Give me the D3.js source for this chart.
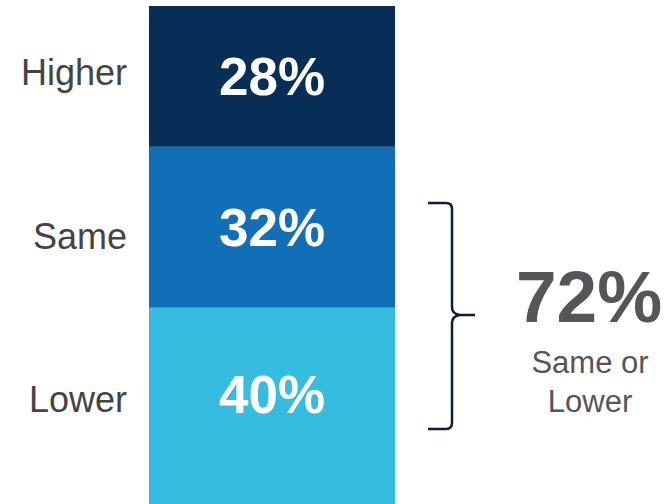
<!DOCTYPE html>
<html><head><meta charset="utf-8">
<script src="https://cdn.jsdelivr.net/npm/d3@7/dist/d3.min.js"></script>
<style>html,body{margin:0;padding:0;background:#fff;}svg{display:block;}</style>
</head><body>
<svg id="chart" width="666" height="504"></svg>
<script>
const categories = ["Higher", "Same", "Lower"];
const values = [28, 32, 40];
const colors = ["#072e57", "#116fb7", "#35bcdf"];
const summaryValue = "72%";
const summaryLabel = ["Same or", "Lower"];

(function () {
const svg = d3.select("#chart");
const font = "'Liberation Sans', Arial, Helvetica, sans-serif";

const y = d3.scaleLinear().domain([0, 100]).range([6, 509]);
const x = d3.scaleBand().domain(["bar"]).range([149, 395]).padding(0);
const labelY = d3.scalePoint().domain(categories).range([85, 412]);

let cum = 0;
const data = categories.map((c, i) => {
  const d = { cat: c, v: values[i], y0: cum, y1: cum + values[i], color: colors[i] };
  cum += values[i];
  return d;
});

const visibleBottom = 480;
const mid = d => (y(d.y0) + Math.min(y(d.y1), visibleBottom)) / 2;

svg.selectAll("rect.seg").data(data).enter().append("rect")
  .attr("class", "seg")
  .attr("x", x("bar"))
  .attr("width", x.bandwidth())
  .attr("y", d => y(d.y0))
  .attr("height", d => y(d.y1) - y(d.y0))
  .attr("fill", d => d.color);

svg.selectAll("text.val").data(data).enter().append("text")
  .attr("class", "val")
  .attr("x", x("bar") + x.bandwidth() / 2)
  .attr("y", d => mid(d) + 19)
  .attr("text-anchor", "middle")
  .attr("font-family", font)
  .attr("font-weight", "bold")
  .attr("font-size", 53)
  .attr("fill", "#ffffff")
  .text(d => d.v + "%");

svg.selectAll("text.cat").data(data).enter().append("text")
  .attr("class", "cat")
  .attr("x", 127)
  .attr("y", d => labelY(d.cat))
  .attr("text-anchor", "end")
  .attr("font-family", font)
  .attr("font-size", 36)
  .attr("fill", "#444444")
  .text(d => d.cat);

// bracket
const bx = 452, bTop = 203, bBot = 429, midY = 315, bLeft = 428, tip = 475;
const path = d3.path();
path.moveTo(bLeft, bTop);
path.lineTo(bx - 6, bTop);
path.quadraticCurveTo(bx, bTop, bx, bTop + 6);
path.lineTo(bx, midY - 8);
path.quadraticCurveTo(bx, midY - 1, bx + 8, midY);
path.lineTo(tip, midY);
path.moveTo(bx + 8, midY);
path.quadraticCurveTo(bx, midY + 1, bx, midY + 8);
path.lineTo(bx, bBot - 6);
path.quadraticCurveTo(bx, bBot, bx - 6, bBot);
path.lineTo(bLeft, bBot);
svg.append("path").attr("d", path.toString())
  .attr("fill", "none").attr("stroke", "#0b1e33").attr("stroke-width", 2.5);

svg.append("text")
  .attr("x", 589).attr("y", 322)
  .attr("text-anchor", "middle")
  .attr("font-family", font).attr("font-weight", "bold").attr("font-size", 73)
  .attr("fill", "#55565a")
  .text(summaryValue);

svg.selectAll("text.sub").data(summaryLabel).enter().append("text")
  .attr("class", "sub")
  .attr("x", 590).attr("y", (d, i) => 372.5 + i * 39.5)
  .attr("text-anchor", "middle")
  .attr("font-family", font).attr("font-size", 31)
  .attr("fill", "#55565a")
  .text(d => d);
})();
</script>
</body></html>
